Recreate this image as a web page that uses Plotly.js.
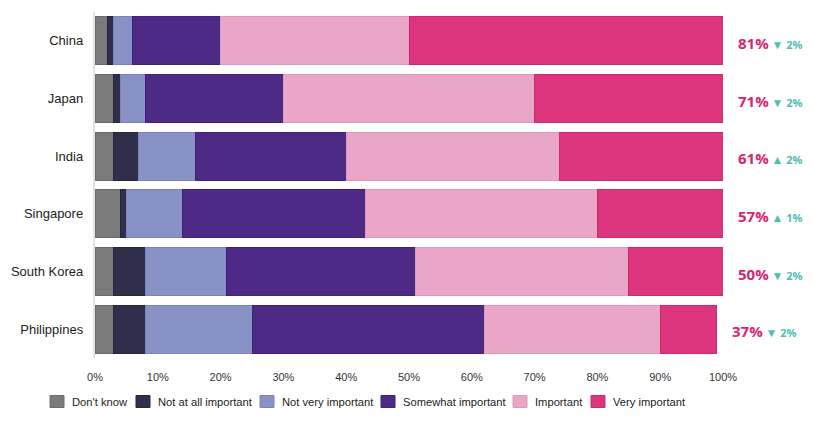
<!DOCTYPE html>
<html><head><meta charset="utf-8">
<script src="https://cdn.plot.ly/plotly-3.0.1.min.js"></script>
<style>html,body{margin:0;padding:0;background:#fff}#chart{width:814px;height:421px}</style>
</head><body><div id="chart"></div>
<script>
const countries = ["China","Japan","India","Singapore","South Korea","Philippines"];
const seriesNames = ["Don't know","Not at all important","Not very important","Somewhat important","Important","Very important"];
const dontKnow     = [2, 3, 3, 4, 3, 3];
const notAtAll     = [1, 1, 4, 1, 5, 5];
const notVery      = [3, 4, 9, 9, 13, 17];
const somewhat     = [14, 22, 24, 29, 30, 37];
const important    = [30, 40, 34, 37, 34, 28];
const veryImportant= [50, 30, 26, 20, 15, 9];
const topTwo       = [81, 71, 61, 57, 50, 37];
const changeVal    = [2, 2, 2, 1, 2, 2];
const changeDir    = ["down","down","up","up","down","down"];
const xTickVals    = [0,10,20,30,40,50,60,70,80,90,100];
const xTickText    = ["0%","10%","20%","30%","40%","50%","60%","70%","80%","90%","100%"];

// styles
const colors = ["#7b7b7b","#2f2f4c","#8892c4","#4e2a87","#eaa6c6","#dc357e"];
const lineColors = ["#6c6c6c","#25253d","#7a84b8","#3f1f78","#dd98ba","#cc2a70"];
const series = [dontKnow, notAtAll, notVery, somewhat, important, veryImportant];

// legend layout (pixel positions of swatch left edges in the page)
const W = 814, H = 421, M = {l: 95, r: 91, t: 12, b: 63};
const legendSwatchLeft = [50, 136, 260, 381, 513, 591];
const legendRowY = 401.5, swatchW = 14, swatchH = 12, swatchTextGap = 6;
const pw = W - M.l - M.r, ph = H - M.t - M.b;
const px2x = px => (px - M.l) / pw;
const py2y = py => (H - M.b - py) / ph;

const traces = series.map((vals, i) => ({
  type: "bar", orientation: "h", name: seriesNames[i],
  y: countries, x: vals, showlegend: false,
  marker: {color: colors[i], line: {color: lineColors[i], width: 1}},
  hoverinfo: "skip"
}));

const totals = countries.map((c, k) => series.reduce((s, arr) => s + arr[k], 0));
const annotations = countries.map((c, k) => ({
  x: totals[k], y: c, xref: "x", yref: "y", xanchor: "left", xshift: 13, yshift: -2,
  showarrow: false,
  text: "<b>" + topTwo[k] + "%</b><span style='color:#4fbdb4;font-size:11px'> <span style='font-size:12px'>" +
        (changeDir[k] === "up" ? "▲" : "▼") + "</span> <b>" + changeVal[k] + "%</b></span>",
  font: {family: "Open Sans, Lato, sans-serif", size: 15, color: "#d6266f"}
}));

const shapes = [];
seriesNames.forEach((name, i) => {
  const left = legendSwatchLeft[i];
  shapes.push({type: "rect", xref: "paper", yref: "paper",
    x0: px2x(left), x1: px2x(left + swatchW),
    y0: py2y(legendRowY + swatchH / 2), y1: py2y(legendRowY - swatchH / 2),
    fillcolor: colors[i], line: {color: lineColors[i], width: 1}});
  annotations.push({xref: "paper", yref: "paper", x: px2x(left + swatchW + swatchTextGap),
    y: py2y(legendRowY), xanchor: "left", yanchor: "middle", showarrow: false,
    text: name, font: {size: 11.2, color: "#222"}});
});

const layout = {
  width: W, height: H,
  margin: M,
  barmode: "stack", bargap: 0.17,
  paper_bgcolor: "#fff", plot_bgcolor: "#fff",
  font: {family: "Liberation Sans, Arial, sans-serif", size: 12, color: "#222"},
  xaxis: {range: [0, 100], tickvals: xTickVals, ticktext: xTickText, showgrid: false,
          zeroline: false, showline: false, ticks: "", tickfont: {size: 11, color: "#333"},
          ticklabelstandoff: 11, fixedrange: true},
  yaxis: {autorange: "reversed", showgrid: false, zeroline: false, showline: true,
          linecolor: "#e2e2e2", linewidth: 2, ticks: "", ticklen: 0, ticksuffix: "  ",
          tickfont: {size: 13, color: "#222"}},
  showlegend: false,
  annotations: annotations,
  shapes: shapes
};
Plotly.newPlot("chart", traces, layout, {displayModeBar: false, staticPlot: true});
</script></body></html>
